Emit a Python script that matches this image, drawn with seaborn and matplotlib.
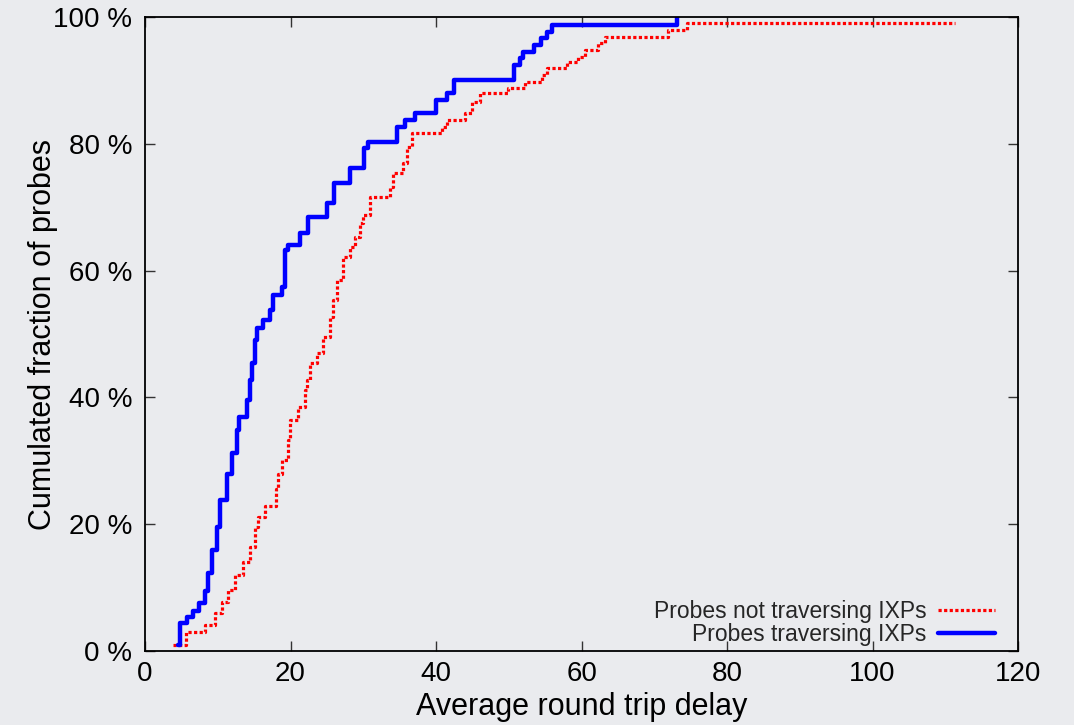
import numpy as np
import pandas as pd
import matplotlib
matplotlib.use("Agg")
import matplotlib.pyplot as plt
from matplotlib.ticker import FuncFormatter
import seaborn as sns

# Step breakpoints of the empirical CDFs: delay (ms) where the curve jumps,
# and cumulated fraction of probes (%) reached after the jump.
not_ixp_delay = [3.85, 5.64, 8.25, 9.62, 10.58, 11.41, 12.37, 13.47, 14.43, 15.12,
                 15.53, 16.49, 18.01, 18.28, 18.83, 19.66, 19.93, 21.03, 21.99, 22.27,
                 22.68, 23.64, 24.47, 25.43, 25.84, 26.39, 27.22, 28.18, 28.87, 29.55,
                 29.97, 30.93, 33.68, 34.09, 35.46, 36.01, 36.70, 40.82, 41.51, 43.99,
                 44.95, 46.05, 49.90, 52.23, 54.57, 55.26, 58.01, 59.52, 60.48, 62.27,
                 63.23, 71.89, 74.50, 111.3]
not_ixp_frac = [0.9, 3.0, 4.1, 6.0, 7.7, 9.6, 12.0, 14.0, 16.4, 19.6,
                21.1, 22.9, 25.5, 28.0, 30.1, 33.3, 36.4, 38.5, 41.2, 42.7,
                45.4, 47.0, 49.5, 52.7, 55.4, 58.5, 62.1, 63.7, 65.3, 67.5,
                68.8, 71.6, 73.2, 75.4, 77.0, 79.5, 81.7, 82.6, 83.8, 84.9,
                86.6, 88.0, 88.8, 89.7, 90.9, 92.0, 92.9, 93.7, 94.8, 95.9,
                96.8, 98.0, 99.0, 99.0]

ixp_delay = [4.54, 4.81, 5.77, 6.60, 7.42, 8.25, 8.66, 9.21, 9.90, 10.31,
             11.27, 11.96, 12.65, 12.92, 14.02, 14.43, 14.71, 15.12, 15.40, 16.22,
             17.18, 17.59, 18.83, 19.24, 19.66, 21.31, 22.41, 25.02, 25.98, 28.18,
             30.10, 30.65, 34.64, 35.74, 37.11, 40.00, 41.51, 42.47, 50.72, 51.55,
             51.96, 53.47, 54.43, 55.26, 55.95, 73.13]
ixp_frac = [0.9, 4.4, 5.4, 6.3, 7.6, 9.5, 12.3, 15.9, 19.6, 23.8,
            28.0, 31.2, 34.9, 36.9, 39.6, 42.7, 45.4, 49.0, 51.0, 52.2,
            53.8, 56.2, 57.4, 63.2, 64.0, 66.0, 68.5, 70.7, 73.8, 76.2,
            79.3, 80.3, 82.6, 83.8, 84.9, 86.9, 88.0, 90.0, 92.4, 93.5,
            94.5, 95.6, 96.7, 97.6, 98.7, 100.0]

series_labels = ["Probes not traversing IXPs", "Probes traversing IXPs"]
x_ticks = [0, 20, 40, 60, 80, 100, 120]
y_ticks = [0, 20, 40, 60, 80, 100]

sns.set_theme(style="ticks")
plt.rcParams["font.family"] = ["Liberation Sans", "DejaVu Sans"]

bg = "#eaebee"
fig = plt.figure(figsize=(10.74, 7.25), dpi=100, facecolor=bg)
ax = fig.add_axes([0.135, 0.102, 0.813, 0.8746], facecolor=bg)

df_not = pd.DataFrame({"delay": not_ixp_delay, "frac": not_ixp_frac})
df_ixp = pd.DataFrame({"delay": ixp_delay, "frac": ixp_frac})

sns.lineplot(data=df_not, x="delay", y="frac", ax=ax, drawstyle="steps-post",
             color="#ff0000", linewidth=2.3, linestyle=(0, (1.0, 0.75)),
             errorbar=None, label=series_labels[0])
sns.lineplot(data=df_ixp, x="delay", y="frac", ax=ax, drawstyle="steps-post",
             color="#0000ff", linewidth=3.2, errorbar=None, label=series_labels[1])

ax.set_xlim(0, 120)
ax.set_ylim(0, 100)
ax.set_xticks(x_ticks)
ax.set_yticks(y_ticks)
ax.yaxis.set_major_formatter(FuncFormatter(lambda v, p: f"{int(v)} %"))

for side in ["top", "right", "bottom", "left"]:
    ax.spines[side].set_visible(True)
    ax.spines[side].set_color("black")
    ax.spines[side].set_linewidth(1.3)

ax.tick_params(axis="both", which="major", direction="in", length=7, width=1.0,
               color="#333333", top=True, right=True, labelsize=20, labelcolor="black")
ax.tick_params(axis="y", pad=9)
ax.tick_params(axis="x", pad=7)

ax.set_xlabel("Average round trip delay", fontsize=22, color="black", labelpad=4)
ax.set_ylabel("Cumulated fraction of probes", fontsize=22, color="black", labelpad=-3)
ax.grid(False)

ax.legend(loc="lower right", bbox_to_anchor=(1 - 23 / 873, 5 / 634),
          frameon=False, markerfirst=False, fontsize=16.5,
          handlelength=2.5, handletextpad=0.5, labelspacing=0.0,
          borderaxespad=0.0, borderpad=0.0)

fig.savefig("out.png", dpi=100, facecolor=bg)
